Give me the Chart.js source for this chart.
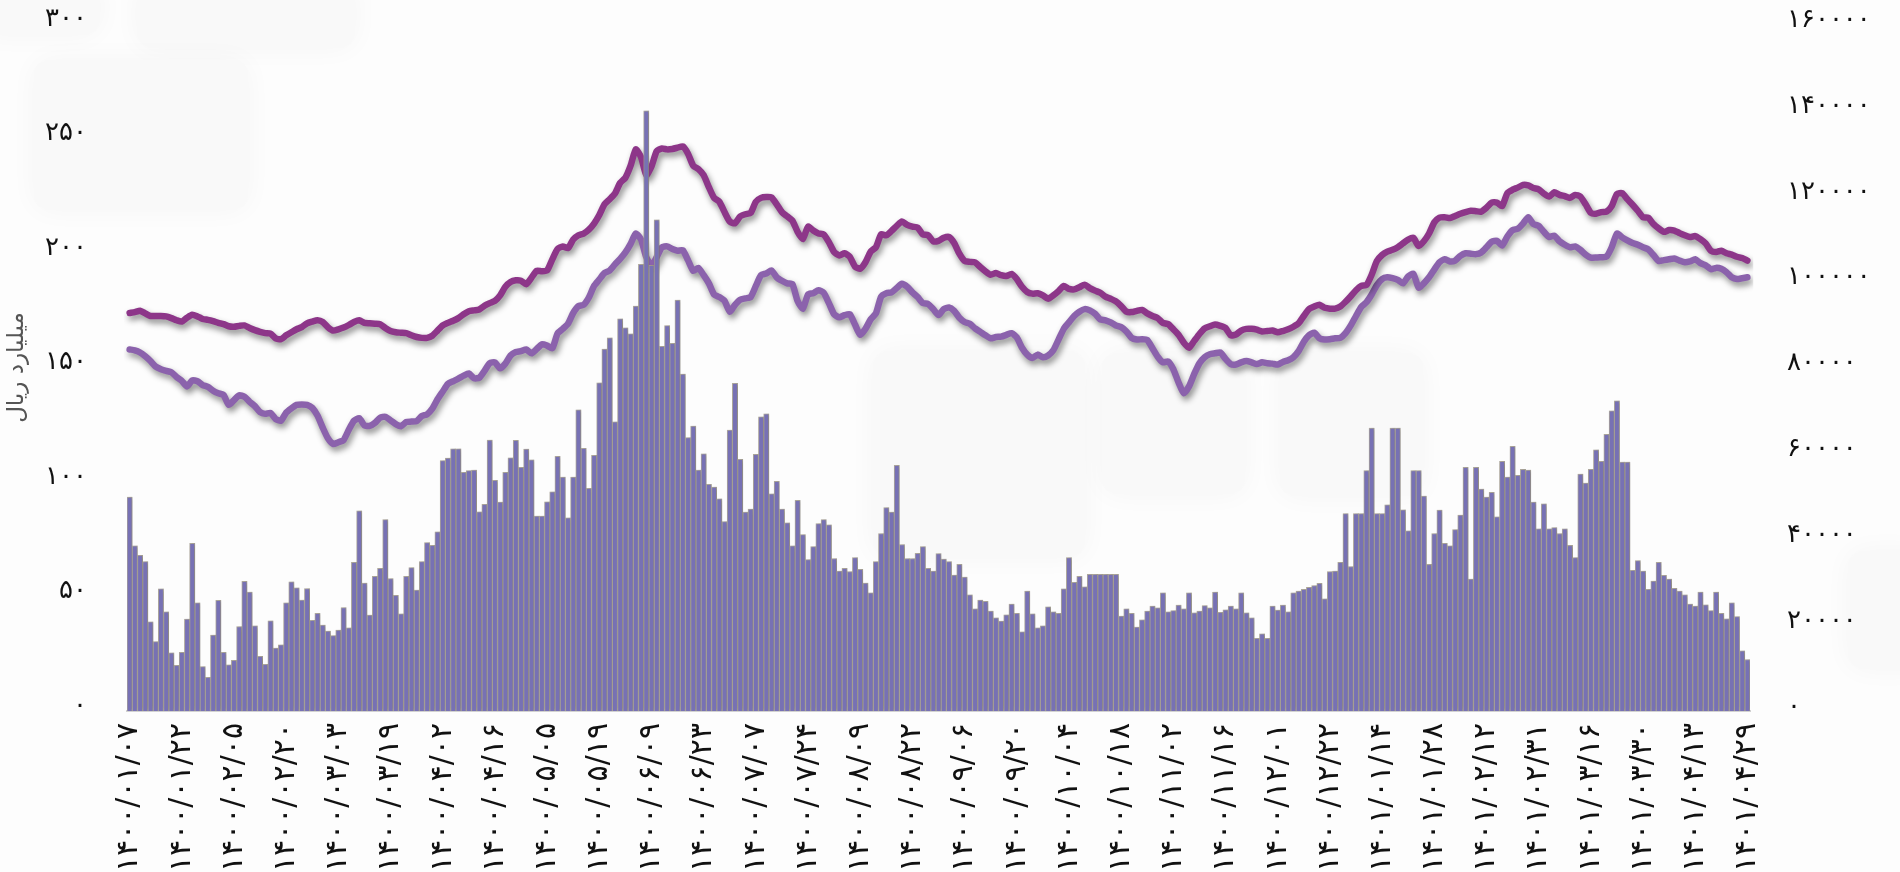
<!DOCTYPE html>
<html lang="fa">
<head>
<meta charset="utf-8">
<title>ارزش معاملات</title>
<script src="https://cdn.jsdelivr.net/npm/chart.js@4.4.1/dist/chart.umd.min.js"></script>
<style>
    html, body { margin: 0; padding: 0; background: #fdfdfd; overflow: hidden; }
    #wrap { position: relative; width: 1900px; height: 872px; }
    .panel { position: absolute; background: #f9f9f9; border-radius: 16px; box-shadow: 0 0 28px rgba(0,0,0,0.035); }
    #chart-box { position: absolute; left: 0; top: 0; width: 1900px; height: 872px; }
</style>
</head>
<body>
<div id="wrap">
    <!-- paneles decorativos del fondo -->
    <div class="panel" style="left:-20px; top:-20px; width:120px; height:55px;"></div>
    <div class="panel" style="left:137px; top:-20px; width:218px; height:68px;"></div>
    <div class="panel" style="left:34px; top:60px; width:214px; height:150px;"></div>
    <div class="panel" style="left:873px; top:351px; width:212px; height:206px;"></div>
    <div class="panel" style="left:1102px; top:353px; width:143px; height:141px;"></div>
    <div class="panel" style="left:1280px; top:353px; width:143px; height:143px;"></div>
    <div class="panel" style="left:1848px; top:551px; width:80px; height:118px;"></div>
    <div id="chart-box"><canvas id="chart-valor"></canvas></div>
</div>

<script>
/* etiquetas del eje x (una cada 10 sesiones) */
const tickLabels = [
    '۱۴۰۰/۰۱/۰۷', '۱۴۰۰/۰۱/۲۲', '۱۴۰۰/۰۲/۰۵', '۱۴۰۰/۰۲/۲۰', '۱۴۰۰/۰۳/۰۳', '۱۴۰۰/۰۳/۱۹',
    '۱۴۰۰/۰۴/۰۲', '۱۴۰۰/۰۴/۱۶', '۱۴۰۰/۰۵/۰۵', '۱۴۰۰/۰۵/۱۹', '۱۴۰۰/۰۶/۰۹', '۱۴۰۰/۰۶/۲۳',
    '۱۴۰۰/۰۷/۰۷', '۱۴۰۰/۰۷/۲۴', '۱۴۰۰/۰۸/۰۹', '۱۴۰۰/۰۸/۲۲', '۱۴۰۰/۰۹/۰۶', '۱۴۰۰/۰۹/۲۰',
    '۱۴۰۰/۱۰/۰۴', '۱۴۰۰/۱۰/۱۸', '۱۴۰۰/۱۱/۰۲', '۱۴۰۰/۱۱/۱۶', '۱۴۰۰/۱۲/۰۱', '۱۴۰۰/۱۲/۲۲',
    '۱۴۰۱/۰۱/۱۴', '۱۴۰۱/۰۱/۲۸', '۱۴۰۱/۰۲/۱۲', '۱۴۰۱/۰۲/۳۱', '۱۴۰۱/۰۳/۱۶', '۱۴۰۱/۰۳/۳۰',
    '۱۴۰۱/۰۴/۱۳', '۱۴۰۱/۰۴/۲۹'
];

/* valor diario (میلیارد ریال) - eje izquierdo */
const valorDiario = [
    93.4, 72.1, 68.0, 65.2, 38.9, 30.3, 53.3, 43.3, 25.4, 19.9, 25.6, 40.1, 73.2, 47.2, 19.4, 14.7, 33.2, 48.3, 25.6, 20.2,
    22.1, 36.9, 56.6, 51.9, 37.2, 23.9, 20.4, 39.4, 27.5, 28.9, 47.2, 56.4, 53.8, 48.4, 53.5, 39.6, 42.7, 37.5, 34.9, 32.9,
    35.3, 45.2, 36.3, 64.9, 87.4, 55.9, 41.9, 58.8, 62.3, 83.6, 57.8, 50.5, 42.4, 58.8, 62.6, 52.8, 65.2, 73.5, 72.3, 78.2,
    109.3, 110.4, 114.5, 114.5, 104.2, 105.0, 105.2, 87.0, 90.3, 118.3, 100.7, 91.2, 104.2, 110.6, 118.2, 106.4, 114.4, 109.7, 85.1, 85.1,
    91.3, 95.7, 111.2, 102.1, 84.4, 102.1, 131.5, 114.7, 97.2, 111.6, 143.3, 158.0, 163.0, 126.3, 171.3, 167.3, 164.7, 176.8, 195.0, 262.1,
    194.6, 214.5, 159.2, 168.3, 160.6, 179.4, 147.1, 119.4, 124.4, 105.2, 112.3, 99.0, 97.8, 92.6, 82.7, 122.7, 143.1, 109.9, 86.9, 88.2,
    112.1, 128.5, 129.8, 94.8, 100.3, 88.2, 82.2, 72.1, 92.0, 77.0, 66.1, 71.8, 81.8, 83.6, 81.3, 66.6, 61.1, 62.3, 60.9, 67.0,
    61.9, 55.9, 51.6, 65.2, 77.5, 88.8, 86.9, 107.3, 72.7, 66.6, 66.6, 68.9, 71.8, 62.3, 61.1, 68.7, 66.3, 65.2, 59.3, 64.0,
    58.5, 50.7, 44.6, 48.4, 47.9, 43.6, 40.7, 39.3, 42.0, 46.7, 42.7, 34.6, 52.4, 42.4, 36.3, 37.2, 45.5, 43.3, 42.7, 53.3,
    67.0, 56.2, 58.8, 54.2, 59.7, 59.7, 59.7, 59.7, 59.7, 59.7, 41.5, 44.6, 42.7, 36.7, 39.8, 43.6, 45.8, 45.0, 51.6, 43.3,
    43.8, 46.2, 44.6, 51.6, 42.9, 43.6, 46.0, 45.0, 51.9, 43.1, 44.2, 45.8, 44.6, 51.6, 42.9, 40.7, 31.7, 33.7, 31.7, 45.8,
    44.1, 46.2, 43.3, 51.6, 52.4, 53.1, 54.0, 54.8, 55.7, 49.0, 60.9, 61.1, 64.9, 86.2, 63.1, 86.2, 86.2, 105.0, 123.5, 86.2,
    86.2, 90.0, 123.5, 123.5, 87.9, 78.7, 105.0, 105.0, 93.8, 64.0, 77.5, 87.7, 73.2, 72.1, 79.2, 85.6, 106.4, 57.6, 106.4, 96.9,
    93.4, 95.5, 84.8, 109.0, 102.1, 115.6, 102.9, 105.5, 105.2, 91.2, 79.6, 90.5, 79.6, 80.1, 77.5, 79.6, 72.3, 67.0, 103.5, 99.5,
    105.5, 114.0, 109.0, 120.8, 131.1, 135.5, 108.7, 108.7, 61.4, 65.7, 61.1, 53.1, 56.7, 64.9, 59.2, 57.6, 53.6, 52.4, 50.7, 46.7,
    45.8, 51.9, 46.4, 43.8, 51.9, 42.7, 40.3, 47.2, 41.2, 26.3, 22.5
];

/* serie superior - eje derecho */
const serieAlta = [
    92700, 92900, 93200, 92600, 92000, 92000, 92000, 91900, 91500, 91000, 90700, 91600, 92300, 91900, 91300, 91100, 90800, 90400, 90100, 89600,
    89500, 89700, 89800, 89200, 88700, 88300, 88000, 87900, 86800, 86600, 87500, 88200, 88900, 89400, 90300, 90700, 91000, 90600, 89400, 88600,
    88900, 89300, 89900, 90600, 91000, 90400, 90300, 90200, 90100, 89200, 88500, 88200, 88100, 88000, 87500, 87100, 86900, 86900, 87400, 88600,
    89800, 90400, 90900, 91500, 92400, 93100, 93300, 93500, 94400, 95000, 95500, 96800, 98800, 99900, 100300, 100200, 99400, 100900, 102500, 102400,
    102600, 105200, 107600, 108200, 107800, 109800, 110800, 111200, 112100, 113500, 115500, 118000, 119200, 120500, 123000, 124200, 127000, 130800, 129000, 124800,
    126800, 130400, 131000, 130800, 130900, 131200, 131500, 129800, 127000, 126200, 124800, 122000, 119500, 118600, 116200, 114000, 113600, 115200, 115700, 116000,
    118600, 119500, 119700, 119600, 118000, 116200, 115200, 114200, 111600, 109900, 112800, 111900, 111200, 111000, 109200, 106900, 106100, 106600, 105800, 103500,
    103000, 104500, 107000, 108000, 111000, 110800, 111800, 113000, 114000, 113200, 112800, 112600, 111000, 110800, 109400, 109500, 110200, 110400, 109000, 106500,
    104800, 104600, 104500, 103400, 102400, 101600, 102000, 101500, 101300, 101800, 100600, 98800, 97600, 97200, 97300, 96800, 96000, 96800, 97800, 99000,
    98300, 98200, 98700, 99300, 98500, 97900, 97400, 96500, 96000, 95400, 94300, 93000, 92900, 93200, 93400, 92600, 92000, 91500, 90400, 90100,
    88900, 87600, 85800, 84600, 86200, 87800, 89100, 89600, 90000, 89700, 89200, 87500, 87700, 88600, 89000, 89000, 88800, 88400, 88500, 88600,
    88200, 88500, 88900, 89500, 90300, 92000, 93600, 94200, 94600, 93900, 93700, 93700, 94200, 95300, 96600, 98000, 99000, 99200, 101600, 104800,
    106200, 107000, 107400, 108000, 108900, 109800, 110200, 108300, 109400, 111200, 113800, 114900, 115000, 114800, 115300, 115800, 116200, 116500, 116400, 116300,
    117200, 118400, 118400, 117600, 120600, 121400, 121900, 122500, 122400, 121800, 121500, 120500, 119800, 120800, 120200, 119900, 119500, 120200, 119800, 118000,
    116000, 115800, 116200, 116300, 117600, 120400, 120600, 119200, 117900, 116500, 115000, 114900, 113400, 112400, 111600, 112000, 111900, 111300, 110800, 110400,
    110600, 109900, 108900, 107200, 106900, 107200, 106600, 106300, 105800, 105500, 104900
];

/* serie inferior - eje derecho */
const serieBaja = [
    84200, 84000, 83500, 82600, 81500, 80200, 79600, 79200, 78900, 77800, 76900, 75600, 77000, 76800, 75900, 75500, 74600, 74000, 73600, 71300,
    72400, 73500, 73200, 72000, 71000, 69600, 69200, 69400, 68000, 67600, 69500, 70500, 71300, 71400, 71300, 70600, 68800, 66000, 63500, 62200,
    62600, 63100, 65500, 67600, 68200, 66500, 66400, 67100, 68300, 68500, 67700, 66800, 66300, 67300, 67400, 67500, 68700, 69100, 70400, 72600,
    74400, 76200, 76800, 77400, 78100, 78600, 77500, 77600, 79200, 81000, 81200, 79800, 80900, 82800, 83600, 83800, 84200, 83300, 84300, 85400,
    85100, 84500, 87900, 89000, 90200, 92700, 94300, 94600, 96300, 99000, 100500, 102000, 102600, 104000, 105300, 106800, 108800, 111200, 109800, 105700,
    103800, 105700, 108000, 108200, 107600, 107200, 107300, 105000, 102500, 103200, 101500, 99600, 97000, 96400, 95500, 93000, 94600, 95800, 96100, 96400,
    99000, 101500, 101900, 102600, 101000, 100200, 99600, 99400, 95500, 93700, 97000, 97300, 98000, 97400, 95000, 92400, 91700, 92200, 92400, 90000,
    87600, 89000, 91200, 92600, 96500, 97300, 97500, 98500, 99500, 98800, 97500, 96400, 95000, 94800, 93600, 92200, 93600, 94000, 93200, 91600,
    90600, 90200, 89100, 88300, 87500, 86800, 87100, 87200, 87600, 88000, 87000, 84600, 83000, 82200, 83000, 82400, 82800, 84000, 86500, 89000,
    90500, 92000, 93000, 93600, 93300, 92500, 91200, 91000, 90500, 89800, 89400, 88400, 86900, 86500, 86600, 86400, 84500, 82500, 81200, 81400,
    79600, 76500, 74000, 75600, 78500, 81000, 82400, 83100, 83300, 83500, 82000, 80800, 80700, 81200, 81500, 81200, 80800, 81200, 81000, 80900,
    80700, 81300, 81700, 82400, 83800, 86000, 87500, 88100, 86800, 86500, 86600, 86800, 86900, 88000, 89800, 92000, 94100, 95200, 97000, 99200,
    100600, 101000, 100800, 100400, 99600, 101200, 101800, 98600, 99600, 101000, 102800, 104500, 105200, 104700, 104900, 106000, 106600, 106500, 106400, 106800,
    108000, 109300, 109500, 108400, 110500, 112000, 112300, 113500, 115000, 113400, 113000, 111600, 110400, 110700, 109400, 108600, 108000, 108200, 107400, 106300,
    105600, 105600, 105700, 105800, 108000, 111200, 110300, 109600, 109000, 108600, 108000, 107500, 106200, 104800, 105000, 105200, 105400, 104900, 104500, 104700,
    105200, 104300, 103800, 102900, 103200, 103000, 102200, 101000, 100600, 100800, 101000
];

// una etiqueta visible cada 10 barras
const categorias = valorDiario.map((_, i) => (i % 10 === 0 ? tickLabels[i / 10] : ''));

const FUENTE = "'DejaVu Sans', sans-serif";
const DIGITOS_FA = '۰۱۲۳۴۵۶۷۸۹';
const aPersa = v => String(v).replace(/\d/g, d => DIGITOS_FA[d]);

// sombras de las barras y de las lineas
const sombraPlugin = {
    id: 'sombra',
    beforeDatasetDraw(chart, args) {
        const ctx = chart.ctx;
        ctx.save();
        if (args.meta.type === 'line') {
            ctx.shadowColor = 'rgba(0,0,0,0.45)';
            ctx.shadowBlur = 6;
            ctx.shadowOffsetX = 2;
            ctx.shadowOffsetY = 4;
        } else {
            ctx.shadowColor = 'rgba(0,0,0,0.28)';
            ctx.shadowBlur = 4;
            ctx.shadowOffsetX = 2;
            ctx.shadowOffsetY = 0;
        }
    },
    afterDatasetDraw(chart) {
        chart.ctx.restore();
    }
};

new Chart(document.getElementById('chart-valor'), {
    data: {
        labels: categorias,
        datasets: [
            {
                type: 'bar',
                data: valorDiario,
                yAxisID: 'y',
                backgroundColor: '#7771b4',
                borderColor: 'rgba(168,162,150,0.9)',
                borderWidth: 1,
                barPercentage: 1,
                categoryPercentage: 1,
                order: 0
            },
            {
                type: 'line',
                data: serieAlta,
                yAxisID: 'y1',
                borderColor: '#8d3689',
                borderWidth: 6.5,
                pointRadius: 0,
                tension: 0.2,
                borderJoinStyle: 'round',
                borderCapStyle: 'round',
                order: 1
            },
            {
                type: 'line',
                data: serieBaja,
                yAxisID: 'y1',
                borderColor: '#8b62ac',
                borderWidth: 6.5,
                pointRadius: 0,
                tension: 0.2,
                borderJoinStyle: 'round',
                borderCapStyle: 'round',
                order: 1
            }
        ]
    },
    options: {
        responsive: true,
        maintainAspectRatio: false,
        animation: false,
        layout: { padding: { top: 24, left: 0, right: 0, bottom: 0 } },
        plugins: {
            legend: { display: false },
            tooltip: { enabled: false }
        },
        scales: {
            x: {
                grid: { display: false, drawTicks: false },
                border: { display: true, color: '#d2d2d2', width: 2 },
                ticks: {
                    autoSkip: false,
                    maxRotation: 90,
                    minRotation: 90,
                    padding: 12,
                    color: '#111',
                    font: { family: FUENTE, size: 30 }
                },
                afterFit: s => { s.height = 161; s.paddingLeft = 0; s.paddingRight = 0; }
            },
            y: {
                position: 'left',
                min: 0,
                max: 300,
                grid: { display: false, drawTicks: false },
                border: { display: false },
                ticks: {
                    stepSize: 50,
                    padding: 40,
                    labelOffset: -5,
                    color: '#111',
                    font: { family: FUENTE, size: 26 },
                    callback: v => aPersa(v)
                },
                title: {
                    display: true,
                    text: 'میلیارد ریال',
                    color: '#555',
                    font: { family: FUENTE, size: 23 },
                    padding: { top: 3, bottom: 0 }
                },
                afterFit: s => { s.width = 127; s.paddingTop = 0; s.paddingBottom = 0; }
            },
            y1: {
                position: 'right',
                min: 0,
                max: 160000,
                grid: { display: false, drawTicks: false },
                border: { display: false },
                ticks: {
                    stepSize: 20000,
                    padding: 37,
                    labelOffset: -4,
                    color: '#111',
                    font: { family: FUENTE, size: 26 },
                    callback: v => aPersa(v)
                },
                afterFit: s => { s.width = 150; s.paddingTop = 0; s.paddingBottom = 0; }
            }
        }
    },
    plugins: [sombraPlugin]
});
</script>
</body>
</html>
